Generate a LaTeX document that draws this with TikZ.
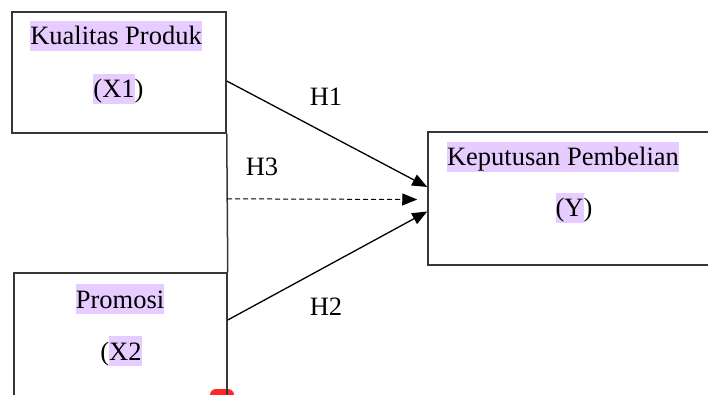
\documentclass[tikz,border=0pt]{standalone}
\usepackage{fontspec}
\setmainfont{Liberation Serif}
\usetikzlibrary{arrows.meta, positioning, calc}
\definecolor{markviolet}{RGB}{230,204,255}
\definecolor{boxgray}{RGB}{55,55,55}
\definecolor{flagred}{RGB}{255,40,40}
\newcommand{\marked}[1]{{\setlength{\fboxsep}{0pt}\colorbox{markviolet}{\rule[-6pt]{0pt}{30pt}#1}}}
\tikzstyle{varbox} = [
  rectangle,
  draw=boxgray,
  line width=1.5pt,
  inner sep=0pt
]
\tikzstyle{vartext} = [
  anchor=base,
  inner sep=0pt,
  font=\fontsize{26.5pt}{30pt}\selectfont
]
\tikzstyle{arrow} = [line width=1.3pt, -{Triangle[length=15pt,width=12pt]}]

\begin{document}
\begin{tikzpicture}[x=1pt, y=-1pt]
    \useasboundingbox (0,0) rectangle (708,395);
    \clip (0,0) rectangle (708,395);
    \fill [flagred, rounded corners=6pt] (210,389) rectangle (234,410);

    \node (product-box) [varbox, minimum width=214pt, minimum height=121pt] at (119,72.5) {};
    \node (promotion-box) [varbox, minimum width=213pt, minimum height=140pt] at (120.5,343) {};
    \node (decision-box) [varbox, minimum width=290pt, minimum height=133pt] at (573,198.5) {};

    \node (product-name) [vartext] at (116,45) {\marked{Kualitas Produk}};
    \node (product-code) [vartext] at (118.5,98) {\marked{(X1})};
    \node (promotion-name) [vartext] at (120,308) {\marked{Promosi}};
    \node (promotion-code) [vartext] at (121,360) {(\marked{X2}};
    \node (decision-name) [vartext] at (563,165.7) {\marked{Keputusan Pembelian}};
    \node (decision-code) [vartext] at (574,216.7) {\marked{(Y})};

    \coordinate (h1-start) at ([yshift=-8.5pt]product-box.east);
    \coordinate (h1-end) at ([yshift=11.5pt]decision-box.west);
    \coordinate (h2-start) at ([yshift=23pt]promotion-box.east);
    \coordinate (h2-end) at ([yshift=-13pt]decision-box.west);
    \coordinate (h3-start) at ($(product-box.south east)!0.47!(promotion-box.north east)$);
    \coordinate (h3-end) at ([xshift=-10pt, yshift=-1pt]decision-box.west);

    \draw [boxgray, line width=1.5pt] (product-box.south east) -- (promotion-box.north east);
    \draw [arrow] (h1-start) -- (h1-end);
    \draw [arrow] (h2-start) -- (h2-end);
    \draw [arrow, line width=1pt, dash pattern=on 5pt off 3pt] (h3-start) -- (h3-end);

    \node (h1) [vartext] at (326,106) {H1};
    \node (h3) [vartext] at (262,176) {H3};
    \node (h2) [vartext] at (326,315) {H2};
  \end{tikzpicture}
\end{document}
